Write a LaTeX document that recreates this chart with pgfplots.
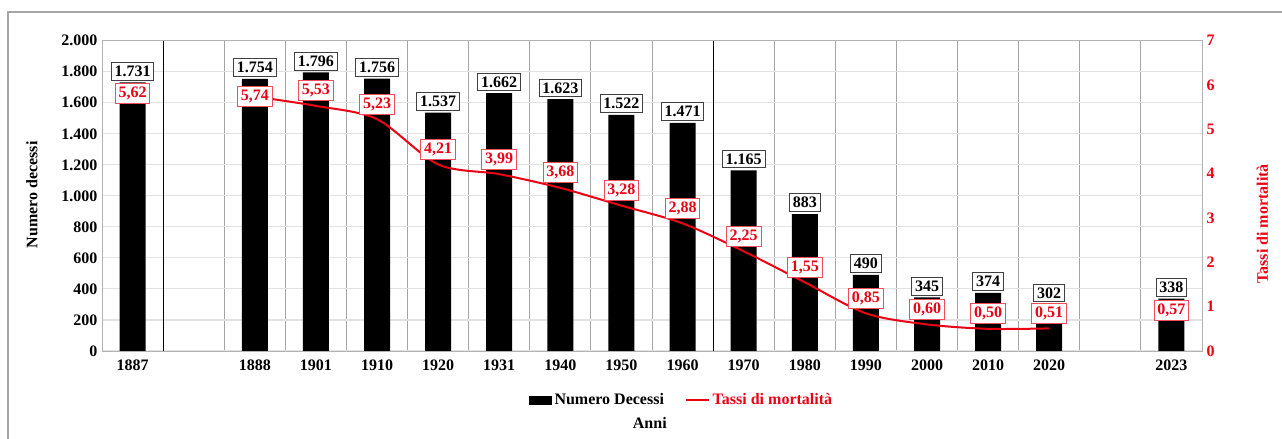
\documentclass[border=0pt]{standalone}
\usepackage{pgfplots}
\pgfplotsset{compat=1.18}
\usepackage{fontspec}
\setmainfont{Liberation Serif}
\definecolor{myred}{RGB}{235,0,20}
\pgfkeys{/pgf/number format/assume math mode=true}
\pgfplotsset{
  redlab/.style={draw=none, mark=none, forget plot, nodes near coords,
    nodes near coords style={draw=myred!70, fill=white, text=myred, inner xsep=2.5pt, inner ysep=2.6pt, line width=0.6pt, #1,
    /pgf/number format/.cd, fixed, precision=2, fixed zerofill, use comma}},
}
\begin{document}
\begin{tikzpicture}[font=\fontsize{12}{14}\selectfont\bfseries]
\useasboundingbox (0,0) rectangle (961.5pt,329.25pt);
\draw[gray!70, line width=0.8pt] (6pt,-5pt) -- (6pt,320.25pt) -- (975pt,320.25pt);
\begin{axis}[
  at={(76.5pt,66pt)}, anchor=south west,
  width=825pt, height=232.7pt, scale only axis,
  xmin=-0.5, xmax=17.5, ymin=0, ymax=2000,
  ytick={0,200,...,2000},
  xtick={0,2,3,4,5,6,7,8,9,10,11,12,13,14,15,17},
  xticklabels={1887,1888,1901,1910,1920,1931,1940,1950,1960,1970,1980,1990,2000,2010,2020,2023},
  minor xtick={0.5,1.5,2.5,3.5,4.5,5.5,6.5,7.5,8.5,10.5,11.5,12.5,13.5,14.5,15.5,16.5},
  xminorgrids, minor x grid style={gray!70, line width=0.6pt},
  extra x ticks={0.5,9.5}, extra x tick labels={},
  extra x tick style={grid=major, major grid style={black, line width=0.6pt}},
  ymajorgrids, major y grid style={gray!22, line width=0.8pt},
  axis line style={gray!60, line width=0.6pt},
  tick style={draw=none},
  yticklabel style={/pgf/number format/.cd, 1000 sep={.}},
  xticklabel style={yshift=-3pt},
  ylabel={Numero decessi},
  ylabel style={at={(axis description cs:-0.0636,0.503)}, anchor=center},
  xlabel={Anni},
  xlabel style={at={(axis description cs:0.498,-0.232)}, anchor=center},
]
\addplot[ybar, bar width=19.5pt, fill=black, draw=none,
  nodes near coords,
  nodes near coords style={draw=black!75, fill=white, text=black, inner xsep=2.5pt, inner ysep=2.6pt, anchor=south, yshift=1.5pt, line width=0.6pt,
  /pgf/number format/.cd, fixed, precision=0, 1000 sep={.}}]
coordinates {(0,1731) (2,1754) (3,1796) (4,1756) (5,1537) (6,1662) (7,1623) (8,1522) (9,1471) (10,1165) (11,883) (12,490) (13,345) (14,374) (15,302) (17,338)};
\end{axis}
\begin{axis}[
  at={(76.5pt,66pt)}, anchor=south west,
  width=825pt, height=232.7pt, scale only axis,
  xmin=-0.5, xmax=17.5, ymin=0, ymax=7,
  ytick={0,1,...,7},
  axis y line*=right, axis x line=none,
  axis line style={draw=none},
  tick style={draw=none},
  yticklabel style={text=myred},
  ylabel={Tassi di mortalità},
  ylabel style={at={(axis description cs:1.055,0.41)}, anchor=center, text=myred},
  legend style={at={(axis description cs:0.527,-0.158)}, anchor=center, draw=none, fill=none, legend columns=2, /tikz/every even column/.append style={column sep=14pt}},
  legend cell align=left,
]
\addlegendimage{area legend, fill=black, draw=none}
\addlegendentry{Numero Decessi}
\addplot[myred, line width=1.5pt, smooth, mark=none]
coordinates {(2,5.74) (3,5.53) (4,5.23) (5,4.21) (6,3.99) (7,3.68) (8,3.28) (9,2.88) (10,2.25) (11,1.55) (12,0.85) (13,0.60) (14,0.50) (15,0.51)};
\addlegendentry[text=myred]{Tassi di mortalità}
\addplot[redlab={anchor=south, yshift=3.5pt}]
coordinates {(3,5.53) (4,5.23) (5,4.21) (6,3.99) (7,3.68) (8,3.28) (9,2.88) (10,2.25) (11,1.55) (12,0.85) (13,0.60) (14,0.50) (15,0.51) (17,0.57)};
\addplot[redlab={anchor=center, yshift=6pt}] coordinates {(0,5.62)};
\addplot[redlab={anchor=center, yshift=0pt}] coordinates {(2,5.74)};
\end{axis}
\end{tikzpicture}
\end{document}
